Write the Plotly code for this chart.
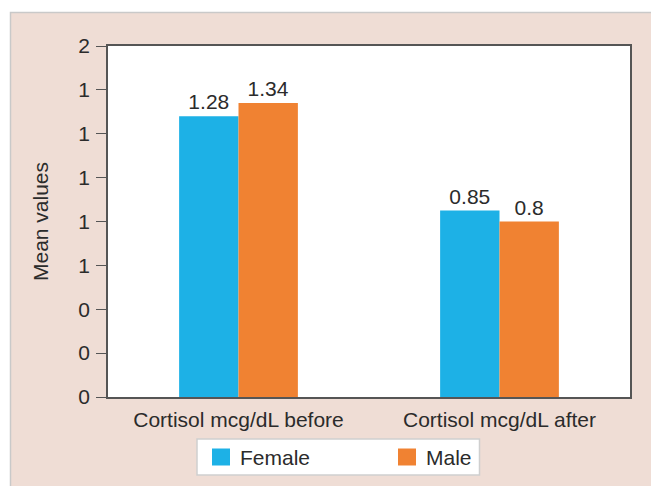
import plotly.graph_objects as go

categories = ["Cortisol mcg/dL before", "Cortisol mcg/dL after"]
series_names = ["Female", "Male"]
female = [1.28, 0.85]
male = [1.34, 0.8]
female_labels = ["1.28", "0.85"]
male_labels = ["1.34", "0.8"]
ytick_vals = [0, 0.2, 0.4, 0.6, 0.8, 1.0, 1.2, 1.4, 1.6]
ytick_text = ["0", "0", "0", "1", "1", "1", "1", "1", "2"]

FONT = "Liberation Sans, Arial, sans-serif"
TXT = "#2b2b2b"
FS = 21
COLORS = ["#1DB1E6", "#F08232"]

fig = go.Figure()
fig.add_trace(go.Bar(x=categories, y=female, name=series_names[0], marker_color=COLORS[0],
                     marker_line_width=0, text=female_labels, textposition="outside",
                     textfont=dict(size=FS, color=TXT), cliponaxis=False))
fig.add_trace(go.Bar(x=categories, y=male, name=series_names[1], marker_color=COLORS[1],
                     marker_line_width=0, text=male_labels, textposition="outside",
                     textfont=dict(size=FS, color=TXT), cliponaxis=False))

W, H = 651, 486
L, R, T, B = 108, 21, 46, 89
pw, ph = W - L - R, H - T - B

def px(x):
    return (x - L) / pw

def py(y):
    return (H - B - y) / ph

# panel background and plot area
fig.add_shape(type="rect", xref="paper", yref="paper", layer="below",
              x0=px(10.5), x1=px(660), y0=py(12.5), y1=py(500),
              fillcolor="#EFDDD5", line=dict(color="#c9c9c9", width=1.5))
fig.add_shape(type="rect", xref="paper", yref="paper", layer="below",
              x0=0, x1=1, y0=0, y1=1, fillcolor="white", line=dict(width=0))

# legend (box, swatches, labels)
fig.add_shape(type="rect", xref="paper", yref="paper",
              x0=px(197), x1=px(479.5), y0=py(439), y1=py(475),
              fillcolor="white", line=dict(color="#cfcfcf", width=1.5))
legend_x = [212, 398]
for name, color, lx in zip(series_names, COLORS, legend_x):
    fig.add_shape(type="rect", xref="paper", yref="paper",
                  x0=px(lx), x1=px(lx + 18), y0=py(448.5), y1=py(465.5),
                  fillcolor=color, line=dict(width=0))
    fig.add_annotation(xref="paper", yref="paper", x=px(lx + 26), y=py(457.5),
                       xanchor="left", yanchor="middle", showarrow=False,
                       text=name, font=dict(size=FS, color=TXT))

fig.update_layout(
    width=W, height=H,
    margin=dict(l=L, r=R, t=T, b=B, autoexpand=False),
    paper_bgcolor="white",
    plot_bgcolor="rgba(0,0,0,0)",
    barmode="group",
    bargap=0.545,
    bargroupgap=0,
    font=dict(family=FONT, size=FS, color=TXT),
    showlegend=False,
)
fig.update_xaxes(showline=True, linecolor="#555555", linewidth=1.5, mirror=True,
                 ticks="", showgrid=False, tickfont=dict(size=FS, color=TXT),
                 ticklabelstandoff=3)
fig.update_yaxes(range=[0, 1.6], tickvals=ytick_vals, ticktext=ytick_text,
                 showline=True, linecolor="#555555", linewidth=1.5, mirror=True,
                 ticks="outside", ticklen=10, tickcolor="#555555", tickwidth=1,
                 showgrid=False, zeroline=False, tickfont=dict(size=FS, color=TXT),
                 ticklabelstandoff=2,
                 title=dict(text="Mean values", font=dict(size=FS, color=TXT), standoff=24))

fig.write_html("out.html", config={"displayModeBar": False},
               post_script="document.body.style.margin='0';")
